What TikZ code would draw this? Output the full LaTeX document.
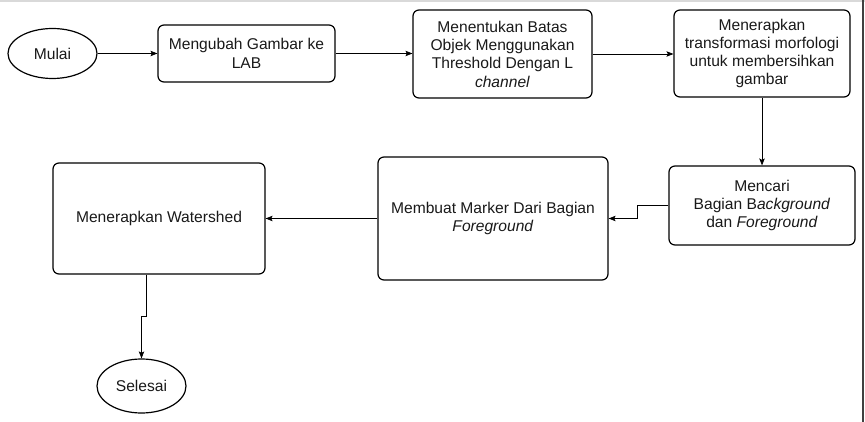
\documentclass[tikz,border=0pt]{standalone}
\usepackage{fontspec}
\setmainfont{Liberation Sans}
\usetikzlibrary{arrows.meta,shapes.geometric,calc}
\tikzset{
  box/.style={draw=black, line width=1.2pt, rounded corners=6pt, align=center, inner sep=0pt,
    font=\fontsize{15.6}{18.3}\selectfont, text=black!90},
  oval/.style={draw=black, line width=1.2pt, ellipse, inner sep=0pt, align=center,
    font=\fontsize{15.6}{18.3}\selectfont, text=black!90},
  arr/.style={draw=black, line width=0.8pt, -{Stealth[length=7pt,width=5.5pt,inset=1.5pt]}},
}
\begin{document}
\begin{tikzpicture}[x=1pt,y=-1pt]
\useasboundingbox (0,0) rectangle (865,422);
\draw[black!15, line width=1.5pt] (0,1) -- (865,1);
\draw[black!75, line width=2pt] (862.5,0) -- (862.5,422);

\node[oval, minimum width=89pt, minimum height=50pt] (mulai) at (52.5,53.5) {Mulai};
\node[box, minimum width=177pt, minimum height=57pt] (b1) at (246.5,53.5) {Mengubah Gambar ke\\LAB};
\node[box, minimum width=179pt, minimum height=88pt] (b2) at (502.5,54) {Menentukan Batas\\Objek Menggunakan\\Threshold Dengan L\\\textit{channel}};
\node[box, minimum width=176pt, minimum height=87pt] (b3) at (762,53.5) {Menerapkan\\transformasi morfologi\\untuk membersihkan\\gambar};
\node[box, minimum width=186pt, minimum height=79pt] (b4) at (762,205.5) {Mencari\\Bagian B\textit{ackground}\\dan \textit{Foreground}};
\node[box, minimum width=230pt, minimum height=123pt] (b5) at (493,218.5) {Membuat Marker Dari Bagian\\\textit{Foreground}};
\node[box, minimum width=212pt, minimum height=111pt] (b6) at (159,218.5) {Menerapkan Watershed};
\node[oval, minimum width=89pt, minimum height=54pt] (sel) at (141.5,386) {Selesai};

\draw[arr] (mulai.east) -- (b1.west);
\draw[arr] (b1.east) -- (b1.east -| b2.west);
\draw[arr] (b2.east) -- (b2.east -| b3.west);
\draw[arr] (b3.south) -- (b4.north);
\draw[arr] (b4.west) -- ++(-31,0) |- (b5.east);
\draw[arr] (b5.west) -- (b6.east);
\draw[arr] ([xshift=-13pt]b6.south) -- ++(0,42) -| (sel.north);
\end{tikzpicture}
\end{document}
